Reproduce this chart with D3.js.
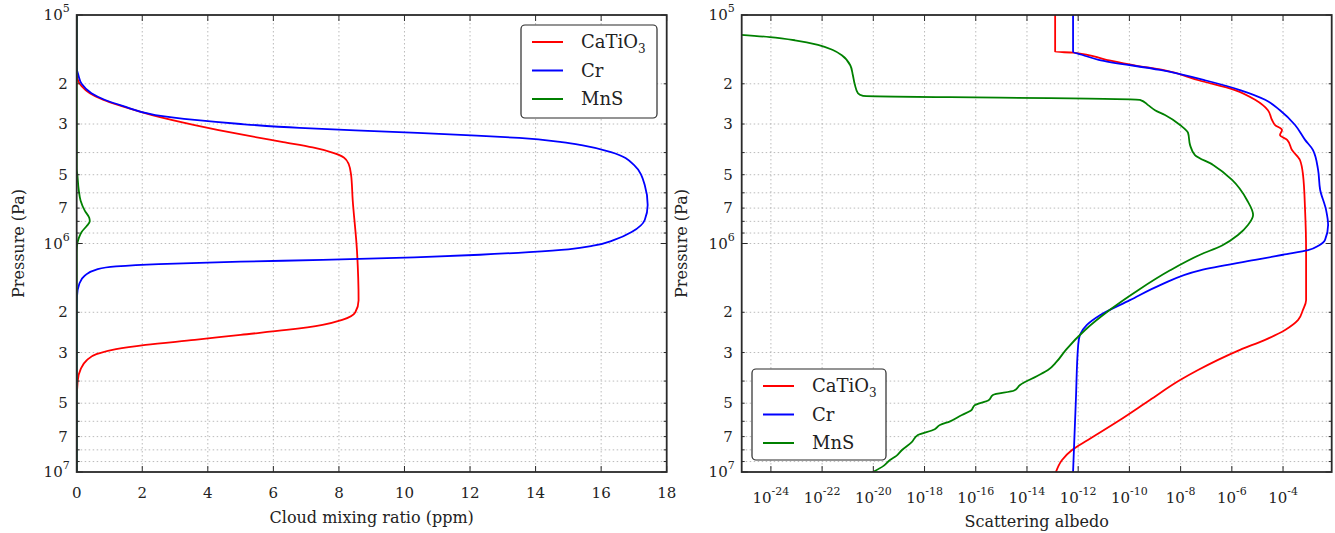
<!DOCTYPE html>
<html><head><meta charset="utf-8">
<script src="https://cdn.jsdelivr.net/npm/d3@7"></script>
<style>
body{margin:0;background:#fff}
svg{display:block}
text{font-family:"DejaVu Serif",serif;fill:#222}
</style>
</head><body>
<svg id="chart" width="1335" height="533"></svg>
<script>
// ---------------- DATA ----------------
const seriesNames = ["CaTiO3", "Cr", "MnS"];
const seriesColors = ["#ff0000", "#0000ff", "#008000"];

// Left panel: cloud mixing ratio (ppm) vs pressure (Pa)
const mixCaTiO3P = [1e5,1.8e5,1.95e5,2.05e5,2.2e5,2.35e5,2.5e5,2.74e5,3.03e5,3.35e5,3.6e5,3.8e5,4.0e5,4.2e5,4.5e5,5e5,6.45e5,1.07e6,1.77e6,2.0e6,2.16e6,2.27e6,2.39e6,2.51e6,2.64e6,2.78e6,2.9e6,3.05e6,3.25e6,3.55e6,4.0e6,5e6,1e7];
const mixCaTiO3  = [0,0,0.05,0.15,0.4,0.8,1.35,2.3,3.6,5.1,6.3,7.2,7.8,8.15,8.3,8.37,8.42,8.55,8.6,8.5,8.1,7.5,6.4,5.0,3.6,2.1,1.2,0.6,0.3,0.12,0.03,0,0];

const mixCrP = [1e5,1.7e5,1.83e5,2.0e5,2.2e5,2.35e5,2.5e5,2.74e5,2.88e5,3.0e5,3.12e5,3.2e5,3.28e5,3.37e5,3.45e5,3.6e5,3.71e5,3.98e5,4.53e5,5.55e5,6.78e5,7.89e5,8.91e5,9.65e5,1.02e6,1.06e6,1.09e6,1.12e6,1.15e6,1.18e6,1.2e6,1.23e6,1.26e6,1.3e6,1.38e6,1.5e6,1.7e6,2e6,1e7];
const mixCr  = [0,0,0.05,0.15,0.45,0.85,1.4,2.4,3.6,5.0,6.8,8.5,10.4,12.2,13.5,14.8,15.4,16.3,17.0,17.33,17.42,17.33,16.93,16.4,15.8,15.0,13.8,12.3,10.3,7.5,5.0,2.5,1.2,0.6,0.25,0.08,0.01,0,0];

const mixMnSP = [1e5,4.7e5,5.0e5,5.8e5,6.5e5,7.2e5,7.7e5,8.0e5,8.4e5,8.9e5,9.5e5,1.02e6,1.1e6,1e7];
const mixMnS  = [0,0,0.02,0.06,0.12,0.25,0.38,0.4,0.3,0.15,0.06,0.01,0,0];

// Right panel: scattering albedo (log10 values) vs pressure (Pa)
const albCaTiO3P = [1e5,1.45e5,1.46e5,1.57e5,1.66e5,1.74e5,1.93e5,2.13e5,2.35e5,2.61e5,2.88e5,3.03e5,3.19e5,3.35e5,3.52e5,3.9e5,4.31e5,5.01e5,7.13e5,1.07e6,1.77e6,1.95e6,2.16e6,2.39e6,2.64e6,2.92e6,3.23e6,3.58e6,3.96e6,4.84e6,5.92e6,7.24e6,8.01e6,8.86e6,1e7];
const albCaTiO3Log = [-12.9,-12.9,-12.2,-10.9,-9.8,-8.7,-7.3,-5.88,-5.09,-4.59,-4.43,-4.31,-4.04,-4.12,-3.84,-3.65,-3.34,-3.22,-3.14,-3.1,-3.1,-3.22,-3.41,-3.92,-4.7,-5.68,-6.54,-7.32,-8.02,-9.2,-10.37,-11.62,-12.24,-12.63,-12.87];

const albCrP = [1e5,1.45e5,1.5e5,1.57e5,1.74e5,1.93e5,2.13e5,2.35e5,2.61e5,3.03e5,3.52e5,3.9e5,4.77e5,5.83e5,7.13e5,8.3e5,9.65e5,1.02e6,1.07e6,1.12e6,1.18e6,1.31e6,1.52e6,1.77e6,2.06e6,2.27e6,2.51e6,2.78e6,4.84e6,1e7];
const albCrLog = [-12.2,-12.2,-11.8,-11.2,-8.8,-7.05,-5.68,-4.7,-4.12,-3.53,-3.14,-2.83,-2.63,-2.55,-2.32,-2.24,-2.36,-2.6,-3.02,-4.0,-5.09,-7.24,-8.8,-9.98,-11.15,-11.66,-11.93,-12.0,-12.09,-12.2];

const albMnSP = [1.22e5,1.25e5,1.29e5,1.35e5,1.42e5,1.5e5,1.66e5,1.83e5,2.02e5,2.2e5,2.26e5,2.29e5,2.31e5,2.35e5,2.48e5,2.61e5,2.74e5,3.03e5,3.28e5,3.71e5,4.1e5,4.53e5,5.27e5,6.45e5,7.5e5,8.3e5,9.18e5,1.02e6,1.12e6,1.31e6,1.6e6,1.95e6,2.39e6,2.92e6,3.3e6,3.58e6,3.8e6,4.16e6,4.4e6,4.6e6,4.85e6,5.09e6,5.4e6,5.63e6,6.0e6,6.23e6,6.5e6,6.89e6,7.4e6,8.01e6,8.5e6,8.86e6,9.4e6,1e7];
const albMnSLog = [-25.2,-24.04,-23.06,-22.16,-21.6,-21.23,-20.9,-20.8,-20.72,-20.6,-20.4,-17.0,-13.1,-9.59,-9.27,-9.0,-8.61,-8.02,-7.71,-7.63,-7.44,-6.73,-5.99,-5.41,-5.17,-5.37,-5.76,-6.38,-7.24,-8.41,-9.66,-10.76,-11.73,-12.48,-12.85,-13.18,-13.6,-14.27,-14.5,-15.33,-15.5,-16.03,-16.2,-16.54,-17.0,-17.4,-17.6,-18.26,-18.5,-18.88,-19.1,-19.35,-19.6,-20.02];

// Tick labels
const mixTicks = [0,2,4,6,8,10,12,14,16,18];
const albTickExps = [-24,-22,-20,-18,-16,-14,-12,-10,-8,-6,-4];
const pressureMajorExps = [5,6,7];
const pressureMinorMult = [2,3,4,5,6,7,8,9];
const pressureLabelMult = [2,3,5,7];

// ---------------- DRAW ----------------
const svg = d3.select("#chart");
const FRAME = "#2a2a2a";

function panel(cfg){
  const {x0,x1,y0,y1,xScale,series,xTicks,xLabelFn,xTitle,xTitleY,yTitleX,legendBox,id,xLabelY} = cfg;
  const y = d3.scaleLog().domain([1e5,1e7]).range([y0,y1]);
  const g = svg.append("g");
  g.append("clipPath").attr("id","clip"+id).append("rect")
    .attr("x",x0).attr("y",y0).attr("width",x1-x0).attr("height",y1-y0);

  // grid
  const gridG = g.append("g").attr("stroke","#aaaaaa").attr("stroke-width",0.8).attr("stroke-dasharray","1.5,2.5");
  const yGridVals = [];
  [1e5,1e6].forEach(d=>pressureMinorMult.forEach(m=>yGridVals.push(m*d)));
  yGridVals.push(1e6);
  yGridVals.forEach(v=>{
    gridG.append("line").attr("x1",x0).attr("x2",x1).attr("y1",y(v)).attr("y2",y(v));
  });
  xTicks.forEach(t=>{
    const xv = xScale(t);
    if (xv > x0+1 && xv < x1-1)
      gridG.append("line").attr("x1",xv).attr("x2",xv).attr("y1",y0).attr("y2",y1);
  });

  // lines
  const lg = g.append("g").attr("clip-path","url(#clip"+id+")");
  series.forEach((s,i)=>{
    const pts = s.p.map((p,k)=>[s.v[k],p]);
    const line = d3.line().x(d=>xScale(d[0])).y(d=>y(d[1])).curve(d3.curveMonotoneY);
    lg.append("path").attr("d",line(pts)).attr("fill","none")
      .attr("stroke",seriesColors[i]).attr("stroke-width",1.8).attr("stroke-linejoin","round");
  });

  // frame
  g.append("rect").attr("x",x0).attr("y",y0).attr("width",x1-x0).attr("height",y1-y0)
    .attr("fill","none").attr("stroke",FRAME).attr("stroke-width",1.8);

  // ticks
  const tg = g.append("g").attr("stroke",FRAME).attr("stroke-width",1);
  pressureMajorExps.forEach(e=>{
    const yy = y(Math.pow(10,e));
    tg.append("line").attr("x1",x0).attr("x2",x0+6).attr("y1",yy).attr("y2",yy);
    tg.append("line").attr("x1",x1).attr("x2",x1-6).attr("y1",yy).attr("y2",yy);
  });
  yGridVals.forEach(v=>{
    const yy=y(v);
    tg.append("line").attr("x1",x0).attr("x2",x0+3).attr("y1",yy).attr("y2",yy);
    tg.append("line").attr("x1",x1).attr("x2",x1-3).attr("y1",yy).attr("y2",yy);
  });
  xTicks.forEach(t=>{
    const xv=xScale(t);
    tg.append("line").attr("x1",xv).attr("x2",xv).attr("y1",y1).attr("y2",y1-6);
    tg.append("line").attr("x1",xv).attr("x2",xv).attr("y1",y0).attr("y2",y0+6);
  });

  // y tick labels
  const yl = g.append("g").attr("font-size",15).attr("text-anchor","end");
  pressureMajorExps.forEach(e=>{
    const t = yl.append("text").attr("x",x0-7).attr("y",y(Math.pow(10,e))+5);
    t.append("tspan").text("10");
    t.append("tspan").attr("dy",-8).attr("font-size",11).text(e);
  });
  [1e5,1e6].forEach(d=>pressureLabelMult.forEach(m=>{
    yl.append("text").attr("x",x0-9).attr("y",y(m*d)+5).text(m);
  }));

  // x tick labels
  const xl = g.append("g").attr("font-size",15).attr("text-anchor","middle");
  xTicks.forEach(t=>xLabelFn(xl.append("text").attr("x",xScale(t)).attr("y",xLabelY),t));

  // axis titles
  g.append("text").attr("x",(x0+x1)/2).attr("y",xTitleY).attr("text-anchor","middle")
    .attr("font-size",16).text(xTitle);
  g.append("text").attr("transform",`translate(${yTitleX},${(y0+y1)/2}) rotate(-90)`)
    .attr("text-anchor","middle").attr("font-size",16).text("Pressure (Pa)");

  // legend
  const L = legendBox;
  const lgd = g.append("g");
  lgd.append("rect").attr("x",L.x).attr("y",L.y).attr("width",L.w).attr("height",L.h)
    .attr("rx",4).attr("fill","#fff").attr("stroke",FRAME).attr("stroke-width",1.2);
  seriesNames.forEach((n,i)=>{
    const yy = L.y + 17 + i*28.5;
    lgd.append("line").attr("x1",L.x+11).attr("x2",L.x+42).attr("y1",yy).attr("y2",yy)
      .attr("stroke",seriesColors[i]).attr("stroke-width",2);
    const t = lgd.append("text").attr("x",L.x+60).attr("y",yy+6).attr("font-size",18);
    if (n==="CaTiO3"){
      t.append("tspan").text("CaTiO");
      t.append("tspan").attr("dy",5).attr("font-size",12).text("3");
    } else t.text(n);
  });
}

// Left panel
const xMix = d3.scaleLinear().domain([0,18]).range([76.7,666.7]);
panel({
  id:"L", x0:76.7, x1:666.7, y0:15, y1:472, xScale:xMix,
  series:[{p:mixCaTiO3P,v:mixCaTiO3},{p:mixCrP,v:mixCr},{p:mixMnSP,v:mixMnS}],
  xTicks:mixTicks, xLabelY:498,
  xLabelFn:(t,v)=>t.text(v),
  xTitle:"Cloud mixing ratio (ppm)", xTitleY:523, yTitleX:24,
  legendBox:{x:521,y:25,w:136,h:93}
});

// Right panel (log10 values converted to albedo)
const xAlb = d3.scaleLog().domain([Math.pow(10,-25.14),Math.pow(10,-2.1)]).range([741.7,1331.7]);
const toAlb = arr => arr.map(e=>Math.pow(10,e));
panel({
  id:"R", x0:741.7, x1:1331.7, y0:15, y1:472, xScale:xAlb,
  series:[{p:albCaTiO3P,v:toAlb(albCaTiO3Log)},{p:albCrP,v:toAlb(albCrLog)},{p:albMnSP,v:toAlb(albMnSLog)}],
  xTicks:albTickExps.map(e=>Math.pow(10,e)), xLabelY:503,
  xLabelFn:(t,v)=>{
    const e = Math.round(Math.log10(v));
    t.append("tspan").text("10");
    t.append("tspan").attr("dy",-8).attr("font-size",11).text("-"+Math.abs(e));
  },
  xTitle:"Scattering albedo", xTitleY:527, yTitleX:687,
  legendBox:{x:752,y:369,w:134,h:91}
});
</script>
</body></html>
